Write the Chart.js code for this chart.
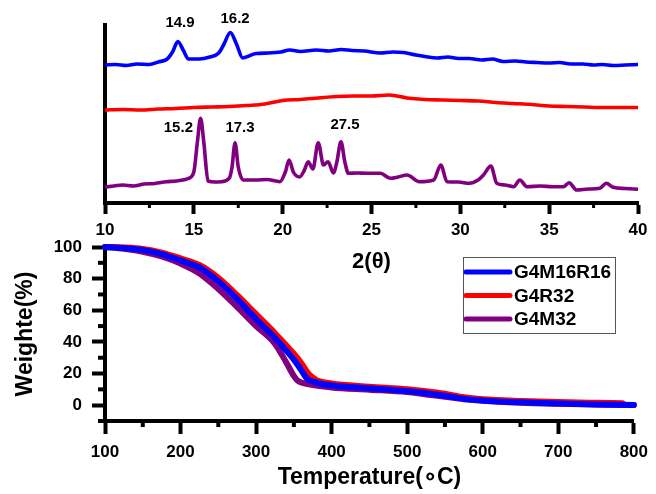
<!DOCTYPE html>
<html><head><meta charset="utf-8">
<script src="https://cdn.jsdelivr.net/npm/chart.js@4.4.1/dist/chart.umd.min.js"></script>
<style>
html,body{margin:0;padding:0;background:#fff;}
#wrap{position:relative;width:656px;height:494px;overflow:hidden;}
canvas{position:absolute;left:0;top:0;}
#tga{z-index:1}
#xrd{z-index:2}
</style></head><body>
<div id="wrap"><canvas id="tga" width="656" height="494"></canvas><canvas id="xrd" width="656" height="280"></canvas></div>
<script>
// ---------- XRD (top panel) ----------
const xrdTicks = [10, 15, 20, 25, 30, 35, 40];
const xrdMinor = [12.5, 17.5, 22.5, 27.5, 32.5, 37.5];
const xrdTitle = '2(θ)';

const blueTheta = [10.0,10.6,11.2,11.8,12.5,13.0,13.5,13.8,14.1,14.4,14.7,15.3,15.9,16.4,16.7,17.05,17.4,17.75,18.5,19.2,19.9,20.4,21.0,21.9,22.6,23.3,23.9,24.6,25.5,26.2,26.8,27.5,28.0,28.7,29.3,29.9,30.5,31.2,31.8,32.4,33.1,33.7,34.3,35.0,35.6,36.2,36.9,37.5,38.0,38.6,39.3,40.0];
const blueInt   = [137,137.5,136.5,138,137.5,140,143,150,160.5,152,143,143,145,149,158,169.5,158,144,148.5,149,150,152,150.5,152,151,152.5,151.5,151,149,150,149.5,147,145.5,144,145,143.5,143.5,142,143,140.5,141,140,139.5,139,139.5,138,138,137,137.5,136.5,137,137.5];

const redTheta = [10,11,12,13,14,15,16,17,18,19,20,21,22,23,24,25,26,27,28,29,30,31,32,33,34,35,36,37,38,39,40];
const redInt   = [92,92.5,92,93,93.5,94.5,95,95.5,96.5,98,101.5,102.5,104,105.5,106,106,107,104,102.5,102,101.5,101,99.5,98.5,97.5,96,95.5,95,94.5,94.5,94.5];

const purpleTheta = [10.0,10.5,11.0,11.6,12.2,12.8,13.45,14.0,14.7,15.0,15.2,15.38,15.56,15.8,16.2,16.55,17.0,17.15,17.32,17.5,17.78,18.5,19.1,19.85,20.15,20.36,20.6,20.95,21.2,21.44,21.7,22.0,22.3,22.56,22.85,23.05,23.28,23.5,23.7,24.2,24.7,25.5,26.05,26.5,27.0,27.7,28.5,28.9,29.25,29.9,30.5,31.0,31.3,31.72,32.05,32.5,33.0,33.35,33.75,34.5,35.2,35.8,36.12,36.55,37.2,37.85,38.22,38.6,39.3,40.0];
const purpleInt   = [15,16,17,16,18,18.5,20.3,21,23.7,30,60,83.7,60,21,20,20.3,24,35,59.3,35,22,22,22.5,20.3,30,42,30,25,31,40.3,33,59.3,37,40.3,29,40,60.3,40,28.7,29,28.7,28.7,23.7,25,27,20.3,22,37,20.3,20,18.7,22,27,36,18.7,17,15.3,22,15.3,16,15.3,15.3,19.3,12,13,13.7,18.7,14.7,13.5,12.7];

const peakLabelText = ['14.9', '16.2', '15.2', '17.3', '27.5'];

// ---------- TGA (bottom panel) ----------
const tgaXTicks = [100, 200, 300, 400, 500, 600, 700, 800];
const tgaXMinor = [150, 250, 350, 450, 550, 650, 750];
const tgaYTicks = [0, 20, 40, 60, 80, 100];
const tgaYMinor = [-10, 10, 30, 50, 70, 90];
const tgaXTitle = 'Temperature(∘C)';
const tgaYTitle = 'Weighte(%)';
const seriesNames = ['G4M16R16', 'G4R32', 'G4M32'];

const tBlue = [100,125,150,175,200,225,250,275,300,325,350,360,367,380,400,450,500,525,550,575,600,650,700,750,800];
const wBlue = [100,99.3,98.2,95.5,91.5,87.1,78.3,67,54.5,42.5,28.8,22,17,14.3,12.5,10.7,9.0,7.6,6.0,4.0,3.0,1.8,1.0,0.5,0.1];

const tRed = [100,125,150,175,200,225,250,275,300,325,350,360,370,375,380,400,450,500,525,550,575,600,650,700,750,785];
const wRed = [100,99.7,98.8,96.5,92.8,88.6,80.5,69.5,57.5,45.5,32.5,26.5,19.5,17.5,15.8,13.7,11.7,10.0,8.8,7.2,5.0,3.8,2.7,2.0,1.5,1.2];

const tPurple = [100,125,150,175,200,225,250,275,300,325,340,350,355,370,400,450,500,525,550,575,600,650,700,750,800];
const wPurple = [100,98.8,97,94,89.5,83.3,73.5,62,50,38.8,27,18.5,15.5,13.2,11.2,9.8,8.3,6.8,5.3,3.8,2.8,1.6,0.9,0.4,0.1];

// ---------- helpers & plugins ----------
const pts = (xs, ys) => xs.map((x, i) => ({x, y: ys[i]}));
const FONT = "'Liberation Sans', Arial, sans-serif";
Chart.defaults.font.family = FONT;
Chart.defaults.font.weight = 'bold';
Chart.defaults.color = '#000';

const minorTicks = {
  id: 'minorTicks',
  afterDraw(chart, args, o) {
    const ctx = chart.ctx;
    ctx.save();
    ctx.strokeStyle = '#000';
    ctx.lineWidth = o.width;
    (o.axes || []).forEach(a => {
      const sc = chart.scales[a.id];
      a.values.forEach(v => {
        const p = sc.getPixelForValue(v);
        ctx.beginPath();
        if (sc.isHorizontal()) { ctx.moveTo(p, sc.top); ctx.lineTo(p, sc.top + a.len); }
        else { ctx.moveTo(sc.right, p); ctx.lineTo(sc.right - a.len, p); }
        ctx.stroke();
      });
    });
    ctx.restore();
  }
};

const peakLabels = {
  id: 'peakLabels',
  afterDatasetsDraw(chart, args, o) {
    const {ctx, scales: {x, y}} = chart;
    ctx.save();
    ctx.font = o.font;
    ctx.fillStyle = '#000';
    ctx.textAlign = 'center';
    ctx.textBaseline = 'middle';
    (o.texts || []).forEach((t, i) => ctx.fillText(t, x.getPixelForValue(o.xs[i]), y.getPixelForValue(o.ys[i])));
    ctx.restore();
  }
};

const boxLegend = {
  id: 'boxLegend',
  afterDraw(chart, args, o) {
    const ctx = chart.ctx;
    ctx.save();
    ctx.strokeStyle = o.borderColor;
    ctx.lineWidth = 1;
    ctx.strokeRect(o.left + 0.5, o.top + 0.5, o.width, o.height);
    ctx.font = o.font;
    ctx.textBaseline = 'middle';
    ctx.textAlign = 'left';
    ctx.lineCap = 'round';
    chart.data.datasets.forEach((ds, i) => {
      const yy = o.top + o.firstRow + i * o.rowGap;
      ctx.strokeStyle = ds.borderColor;
      ctx.lineWidth = o.lineWidth;
      ctx.beginPath();
      ctx.moveTo(o.left + o.lineStart, yy);
      ctx.lineTo(o.left + o.lineEnd, yy);
      ctx.stroke();
      ctx.fillStyle = '#000';
      ctx.fillText(ds.label, o.left + o.textStart, yy + 1);
    });
    ctx.restore();
  }
};

const fixTicks = list => scale => { scale.ticks = list.map(v => ({value: v})); };

// ---------- XRD chart ----------
new Chart(document.getElementById('xrd'), {
  type: 'line',
  data: {
    datasets: [
      {label: 'G4M16R16', data: pts(blueTheta, blueInt), borderColor: '#0000FF'},
      {label: 'G4R32', data: pts(redTheta, redInt), borderColor: '#FF0000'},
      {label: 'G4M32', data: pts(purpleTheta, purpleInt), borderColor: '#800080'}
    ].map(d => Object.assign(d, {borderWidth: 3.6, pointRadius: 0, cubicInterpolationMode: 'monotone', borderJoinStyle: 'round', borderCapStyle: 'round', fill: false}))
  },
  options: {
    responsive: false, animation: false, events: [],
    layout: {padding: {top: 25, right: 18, left: 0, bottom: 0}},
    plugins: {
      legend: {display: false}, tooltip: {enabled: false},
      minorTicks: {width: 3, axes: [{id: 'x', values: xrdMinor, len: 5}]},
      peakLabels: {font: "bold 15px " + FONT, texts: peakLabelText,
        xs: [14.22, 17.32, 14.13, 17.6, 23.51], ys: [179.3, 182.7, 73.7, 73.7, 77]}
    },
    scales: {
      x: {
        type: 'linear', min: 10, max: 40,
        afterBuildTicks: fixTicks(xrdTicks),
        afterFit: s => { s.height = 77; },
        border: {display: true, width: 4, color: '#000'},
        grid: {display: true, drawOnChartArea: false, tickLength: 11, tickWidth: 4, tickColor: '#000'},
        ticks: {font: {size: 17, weight: 'bold'}, padding: 6, maxRotation: 0, autoSkip: false},
        title: {display: true, text: xrdTitle, font: {size: 22, weight: 'bold'}, padding: {top: 0, bottom: 5}}
      },
      y: {
        type: 'linear', min: -1, max: 177,
        afterFit: s => { s.width = 105; },
        border: {display: true, width: 4, color: '#000'},
        grid: {display: false},
        ticks: {display: false}
      }
    }
  },
  plugins: [minorTicks, peakLabels]
});

// ---------- TGA chart ----------
new Chart(document.getElementById('tga'), {
  type: 'line',
  data: {
    datasets: [
      {label: seriesNames[0], data: pts(tBlue, wBlue), borderColor: '#0000FF'},
      {label: seriesNames[1], data: pts(tRed, wRed), borderColor: '#FF0000'},
      {label: seriesNames[2], data: pts(tPurple, wPurple), borderColor: '#800080'}
    ].map(d => Object.assign(d, {borderWidth: 6, pointRadius: 0, cubicInterpolationMode: 'monotone', borderJoinStyle: 'round', borderCapStyle: 'round', fill: false, clip: 8}))
  },
  options: {
    responsive: false, animation: false, events: [],
    layout: {padding: {top: 247, right: 19, left: 0, bottom: 0}},
    plugins: {
      legend: {display: false}, tooltip: {enabled: false},
      minorTicks: {width: 4, axes: [{id: 'x', values: tgaXMinor, len: 6}, {id: 'y', values: tgaYMinor, len: 7}]},
      boxLegend: {left: 463, top: 257, width: 152, height: 76, borderColor: '#555', font: "bold 19px " + FONT,
        firstRow: 15, rowGap: 23.5, lineStart: 3, lineEnd: 47, lineWidth: 5, textStart: 51}
    },
    scales: {
      x: {
        type: 'linear', min: 100, max: 800,
        afterBuildTicks: fixTicks(tgaXTicks),
        afterFit: s => { s.height = 73; },
        border: {display: true, width: 4, color: '#000'},
        grid: {display: true, drawOnChartArea: false, tickLength: 13, tickWidth: 4, tickColor: '#000'},
        ticks: {font: {size: 17, weight: 'bold'}, padding: 8, maxRotation: 0, autoSkip: false},
        title: {display: true, text: tgaXTitle, font: {size: 23, weight: 'bold'}, padding: {top: 0, bottom: 3}}
      },
      y: {
        type: 'linear', min: -10, max: 100,
        afterBuildTicks: fixTicks(tgaYTicks),
        afterFit: s => { s.width = 105; },
        border: {display: true, width: 4, color: '#000'},
        grid: {display: true, drawOnChartArea: false, tickLength: 13, tickWidth: 4, tickColor: '#000'},
        ticks: {font: {size: 17, weight: 'bold'}, padding: 10, autoSkip: false},
        title: {display: true, text: tgaYTitle, font: {size: 23, weight: 'bold'}, padding: {top: 12, bottom: 0}}
      }
    }
  },
  plugins: [minorTicks, boxLegend]
});
</script>
</body></html>
